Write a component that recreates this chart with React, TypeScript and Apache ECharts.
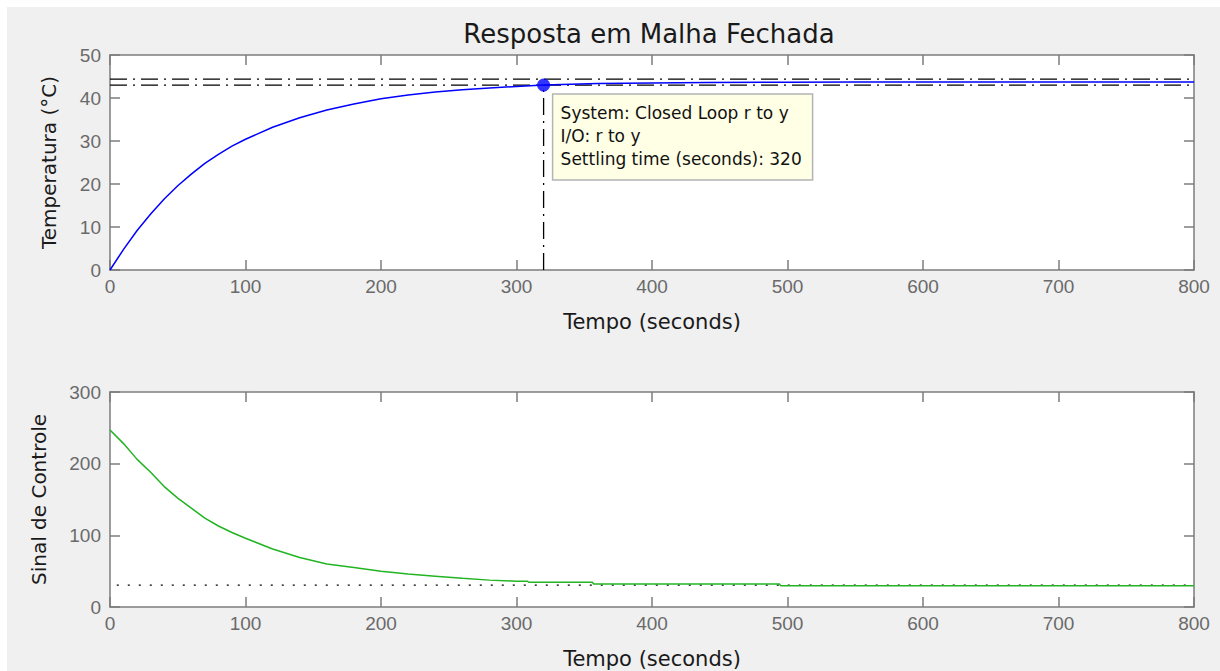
import React, { useEffect, useRef } from "react";
import * as echarts from "echarts";

// ---- Data ----
const titleText = "Resposta em Malha Fechada";

const tempT = [0, 10, 20, 30, 40, 50, 60, 70, 80, 90, 100, 120, 140, 160, 180, 200, 220, 240, 260, 280, 300, 320, 340, 360, 380, 400, 440, 500, 550, 800];
const tempV = [0, 4.8, 9.2, 13.0, 16.5, 19.6, 22.3, 24.8, 26.9, 28.8, 30.4, 33.2, 35.4, 37.2, 38.6, 39.8, 40.7, 41.4, 41.9, 42.3, 42.7, 43.0, 43.2, 43.35, 43.45, 43.5, 43.6, 43.65, 43.7, 43.7];

const settleUpper = 44.4;
const settleLower = 43.0;
const settleTime = 320;
const settleValue = 43.0;

const ctrlT = [0, 10, 20, 30, 40, 50, 60, 70, 80, 90, 100, 120, 140, 160, 180, 200, 220, 240, 260, 280, 300, 308, 309, 356, 357, 494, 495, 800];
const ctrlV = [247, 228, 206, 188, 168, 152, 138, 124, 113, 104, 96, 81, 69, 60, 55, 50, 46, 43, 40, 37.5, 36, 36, 34.5, 34.5, 32, 32, 29.8, 29.8];
const ctrlRef = 30.5;
const ctrlRefStart = 5;

const tipLines = ["System: Closed Loop r to y", "I/O: r to y", "Settling time (seconds): 320"];

const FONT = "Liberation Sans";
const TFONT = "DejaVu Sans";
const AXIS_GRAY = "#7d7d7d";
const LABEL_GRAY = "#6a6a6a";

function zip(a: number[], b: number[]) {
  return a.map((v, i) => [v, b[i]]);
}

export default function App() {
  const ref = useRef<HTMLDivElement>(null);
  useEffect(() => {
    document.body.style.margin = "0";
    document.body.style.overflow = "hidden";
    const chart = echarts.init(ref.current!, undefined, { renderer: "svg" });

    const grids = [
      { left: 103, top: 48, width: 1084, height: 215 },
      { left: 103, top: 385, width: 1084, height: 215 },
    ];

    const baseLine = { show: true, onZero: false, lineStyle: { color: AXIS_GRAY, width: 1.5 } };
    const tick = { show: true, inside: true, length: 10, lineStyle: { color: AXIS_GRAY, width: 1.5 } };

    const mkX = (gi: number, pos: "bottom" | "top", name?: string) => ({
      type: "value",
      gridIndex: gi,
      position: pos,
      min: 0,
      max: 800,
      interval: 100,
      splitLine: { show: false },
      axisLine: baseLine,
      axisTick: tick,
      axisLabel: pos === "bottom"
        ? { show: true, color: LABEL_GRAY, fontFamily: FONT, fontSize: 19, margin: 7 }
        : { show: false },
      name: name || "",
      nameLocation: "middle",
      nameGap: 41,
      nameTextStyle: { color: "#1a1a1a", fontFamily: TFONT, fontSize: 21 },
    });

    const mkY = (gi: number, pos: "left" | "right", max: number, interval: number, name?: string, gap?: number) => ({
      type: "value",
      gridIndex: gi,
      position: pos,
      min: 0,
      max,
      interval,
      splitLine: { show: false },
      axisLine: baseLine,
      axisTick: tick,
      axisLabel: pos === "left"
        ? { show: true, color: LABEL_GRAY, fontFamily: FONT, fontSize: 19, margin: 9 }
        : { show: false },
      name: name || "",
      nameLocation: "middle",
      nameGap: gap || 50,
      nameTextStyle: { color: "#1a1a1a", fontFamily: TFONT, fontSize: 20 },
    });

    const dashDot = [17, 6, 2, 6];

    const option: any = {
      animation: false,
      backgroundColor: "#f0f0f0",
      title: {
        text: titleText,
        left: 637,
        top: 9,
        textAlign: "center",
        textStyle: { color: "#1a1a1a", fontFamily: TFONT, fontSize: 26, fontWeight: "normal" },
      },
      grid: grids.map((g) => ({ ...g, show: true, backgroundColor: "#ffffff", borderWidth: 0 })),
      xAxis: [
        mkX(0, "bottom", "Tempo (seconds)"),
        mkX(0, "top"),
        mkX(1, "bottom", "Tempo (seconds)"),
        mkX(1, "top"),
      ],
      yAxis: [
        mkY(0, "left", 50, 10, "Temperatura (°C)", 51),
        mkY(0, "right", 50, 10),
        mkY(1, "left", 300, 100, "Sinal de Controle", 61),
        mkY(1, "right", 300, 100),
      ],
      series: [
        {
          type: "line", xAxisIndex: 0, yAxisIndex: 0, showSymbol: false,
          data: [[0, settleUpper], [800, settleUpper]],
          lineStyle: { color: "#000", width: 1.3, type: dashDot }, z: 2,
        },
        {
          type: "line", xAxisIndex: 0, yAxisIndex: 0, showSymbol: false,
          data: [[0, settleLower], [800, settleLower]],
          lineStyle: { color: "#000", width: 1.3, type: dashDot }, z: 2,
        },
        {
          type: "line", xAxisIndex: 0, yAxisIndex: 0, showSymbol: false,
          data: [[settleTime, 0], [settleTime, settleValue]],
          lineStyle: { color: "#000", width: 1.3, type: dashDot }, z: 2,
        },
        {
          type: "line", xAxisIndex: 0, yAxisIndex: 0, showSymbol: false,
          data: zip(tempT, tempV),
          lineStyle: { color: "#0000ff", width: 1.5 }, z: 3,
        },
        {
          type: "scatter", xAxisIndex: 0, yAxisIndex: 0,
          data: [[settleTime, settleValue]],
          symbolSize: 13, itemStyle: { color: "#0000ff" }, z: 4,
        },
        {
          type: "line", xAxisIndex: 2, yAxisIndex: 2, showSymbol: false,
          data: [[ctrlRefStart, ctrlRef], [800, ctrlRef]],
          lineStyle: { color: "#000", width: 1.2, type: [2, 9] }, z: 2,
        },
        {
          type: "line", xAxisIndex: 2, yAxisIndex: 2, showSymbol: false,
          data: zip(ctrlT, ctrlV),
          lineStyle: { color: "#22b422", width: 1.5 }, z: 3,
        },
      ],
    };
    chart.setOption(option);

    const p = chart.convertToPixel({ xAxisIndex: 0, yAxisIndex: 0 }, [settleTime, settleValue]) as number[];
    const bx = p[0] + 9;
    const by = p[1] + 9;
    chart.setOption({
      graphic: [
        {
          type: "group",
          x: bx,
          y: by,
          z: 10,
          children: [
            {
              type: "rect",
              shape: { x: 0, y: 0, width: 260, height: 86 },
              style: { fill: "#ffffe6", stroke: "#b4b4b4", lineWidth: 1.5 },
            },
            ...tipLines.map((t, i) => ({
              type: "text",
              x: 8,
              y: 10 + i * 23,
              style: { text: t, fill: "#111", font: `17px '${TFONT}'` },
            })),
          ],
        },
      ],
    });

    return () => chart.dispose();
  }, []);

  return (
    <div
      ref={ref}
      style={{ position: "absolute", left: 7, top: 7, width: 1213, height: 664 }}
    />
  );
}
